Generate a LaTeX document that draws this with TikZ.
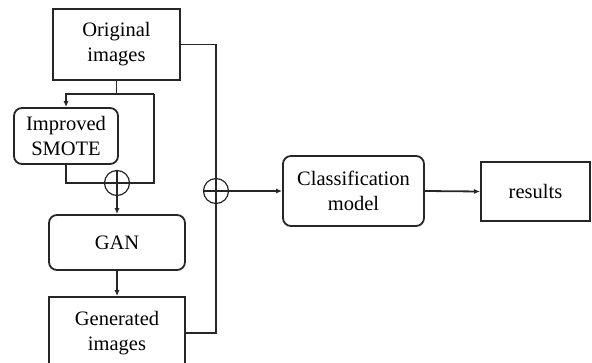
\documentclass[tikz,border=0pt]{standalone}
\usepackage{fontspec}
\setmainfont{Liberation Serif}
\usetikzlibrary{arrows.meta, positioning}

\begin{document}
\begin{tikzpicture}[x=1pt, y=-1pt, line width=1.8pt, draw=black!85,
  font=\fontsize{20.5}{25}\selectfont,
  box/.style={draw, align=center, inner sep=0pt},
  rbox/.style={box, rounded corners=8pt},
  oplus/.style={draw, circle, minimum size=25pt, inner sep=0pt, line width=1.2pt,
    path picture={\draw[line width=1.2pt] (path picture bounding box.north) -- (path picture bounding box.south)
      (path picture bounding box.west) -- (path picture bounding box.east);}},
  arr/.style={-{Latex[length=6pt, width=5pt]}}]
\useasboundingbox (0,0) rectangle (592,362);
% boxes
\node[box, minimum width=127pt, minimum height=71pt] (orig) at (116.5,44.5) {Original\\images};
\node[rbox, minimum width=104pt, minimum height=56pt] (smote) at (66,136) {Improved\\SMOTE};
\node[oplus] (plus1) at (117,183) {};
\node[rbox, minimum width=136pt, minimum height=55pt] (gan) at (117,242.5) {GAN};
\node[box, minimum width=136pt, minimum height=72pt] (gen) at (117,333) {Generated\\images};
\node[oplus] (plus2) at (216,191) {};
\node[rbox, minimum width=141pt, minimum height=70pt] (cls) at (353.5,191) {Classification\\model};
\node[box, minimum width=109pt, minimum height=59pt] (res) at (535.5,191.5) {results};
% left branch
\coordinate (split) at (orig.south |- 0,94);
\coordinate (lft) at (smote.north |- split);
\coordinate (rgt) at (154,94);
\draw (orig.south) -- (split);
\draw[arr] (rgt) -- (lft) -- (smote.north);
\draw (rgt) |- (plus1.east);
\draw (smote.south) |- (plus1.west);
\draw[arr] (plus1.south) -- (gan.north);
\draw[arr] (gan.south) -- (gen.north);
% bus to classifier
\draw (orig.east) -| (plus2.north);
\draw (gen.east) -| (plus2.south);
\draw[arr] (plus2.east) -- (cls.west);
\draw[arr] (cls.east) -- (res.west);
\end{tikzpicture}
\end{document}
